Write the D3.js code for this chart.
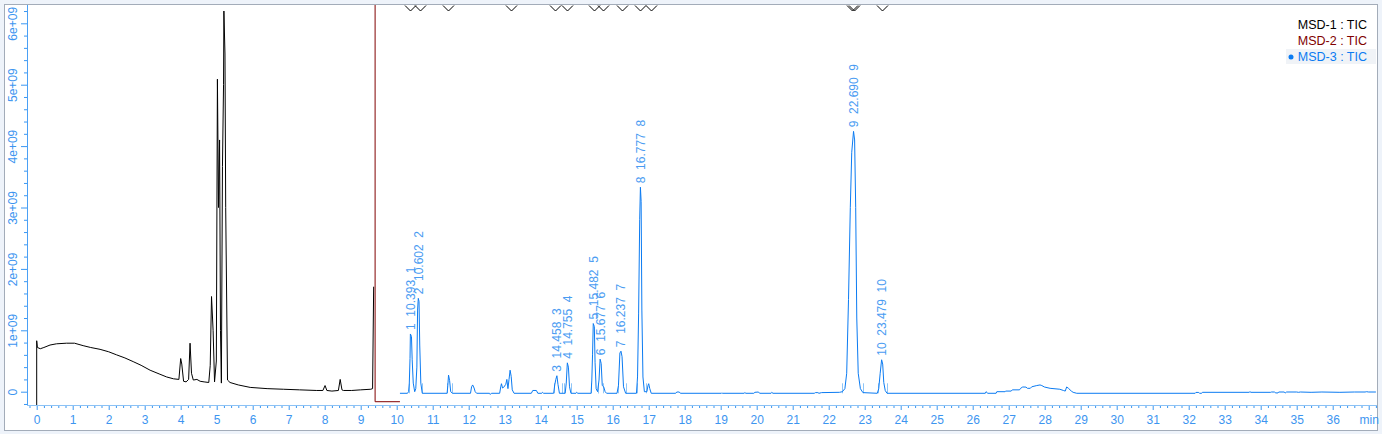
<!DOCTYPE html>
<html><head><meta charset="utf-8">
<script src="https://cdn.jsdelivr.net/npm/d3@7"></script>
<style>
html,body{margin:0;padding:0;background:#eef3fa;}
svg{display:block;font-family:"Liberation Sans",Arial,sans-serif;}
</style></head><body>
<svg id="c" width="1382" height="434"></svg>
<script>
// ---------- DATA (values in units of 1e9 counts, time in minutes) ----------
const seriesNames = ["MSD-1 : TIC", "MSD-2 : TIC", "MSD-3 : TIC"];
const seriesColors = ["#000000", "#800000", "#0b7bf2"];

const msd1 = [[0,-0.4],[0,0.83],[0.02,0.72],[0.1,0.70],[0.2,0.72],[0.37,0.76],[0.55,0.78],[0.83,0.79],[1.05,0.79],[1.29,0.75],[1.5,0.72],[1.76,0.69],[2.0,0.65],[2.22,0.60],[2.45,0.55],[2.68,0.49],[2.9,0.43],[3.15,0.35],[3.4,0.29],[3.61,0.24],[3.8,0.21],[3.95,0.2],[4.0,0.54],[4.03,0.45],[4.08,0.17],[4.15,0.16],[4.22,0.2],[4.26,0.79],[4.3,0.3],[4.35,0.19],[4.45,0.2],[4.54,0.17],[4.65,0.16],[4.78,0.15],[4.82,0.43],[4.856,1.55],[4.9,1.0],[4.94,0.16],[4.99,0.5],[5.02,5.09],[5.05,3.0],[5.08,4.1],[5.105,1.0],[5.13,0.14],[5.16,3.67],[5.19,5.0],[5.2,6.2],[5.23,5.5],[5.25,3.0],[5.3,0.19],[5.37,0.15],[5.6,0.11],[5.93,0.07],[6.4,0.05],[6.85,0.04],[7.3,0.03],[7.78,0.02],[7.95,0.02],[8.01,0.10],[8.06,0.02],[8.2,0.01],[8.38,0.02],[8.43,0.2],[8.48,0.03],[8.52,0.02],[8.75,0.02],[9.0,0.03],[9.28,0.04],[9.33,0.05],[9.36,1.71]];

const msd2 = [[9.40,7.0],[9.40,-0.163],[10.09,-0.163]];

const msd3 = [[10.09,-0.026],[10.30,-0.026],[10.33,0.0],[10.35,0.14],[10.37,0.54],[10.38,0.94],[10.41,0.9],[10.43,0.52],[10.46,0.14],[10.50,0.0],[10.53,0.05],[10.56,0.4],[10.58,1.33],[10.60,1.52],[10.62,1.47],[10.64,0.76],[10.67,0.14],[10.71,-0.026],
[11.40,-0.026],[11.42,0.1],[11.44,0.27],[11.47,0.18],[11.50,0.0],[11.55,-0.026],
[12.05,-0.026],[12.08,0.08],[12.11,0.11],[12.15,0.06],[12.18,0.0],[12.22,-0.026],
[12.58,-0.026],[12.60,-0.045],[12.63,-0.026],
[12.86,-0.026],[12.89,0.08],[12.91,0.13],[12.94,0.06],[12.97,0.07],[13.03,0.12],[13.06,0.2],[13.09,0.05],[13.12,0.2],[13.15,0.35],[13.18,0.25],[13.21,0.03],[13.26,-0.026],
[13.74,-0.026],[13.78,0.02],[13.88,0.02],[13.92,-0.026],
[14.03,-0.026],[14.05,-0.01],[14.08,-0.026],
[14.36,-0.026],[14.39,0.11],[14.42,0.2],[14.45,0.26],[14.48,0.12],[14.52,-0.026],
[14.68,-0.026],[14.71,0.14],[14.74,0.47],[14.77,0.4],[14.80,0.08],[14.84,-0.026],
[14.98,-0.026],[15.0,-0.01],[15.03,-0.026],
[15.40,-0.026],[15.42,0.19],[15.44,0.6],[15.46,1.11],[15.49,1.06],[15.51,0.48],[15.54,0.05],[15.58,0.0],[15.62,0.19],[15.65,0.53],[15.68,0.46],[15.71,0.1],[15.75,0.08],[15.79,0.0],[15.83,-0.026],
[16.12,-0.026],[16.16,0.1],[16.20,0.63],[16.23,0.66],[16.26,0.57],[16.30,0.08],[16.36,-0.026],
[16.66,-0.026],[16.69,0.24],[16.72,1.28],[16.75,2.8],[16.77,3.33],[16.79,3.1],[16.81,1.33],[16.84,0.24],[16.88,0.0],[16.95,0.0],[16.98,0.1],[17.0,0.13],[17.03,0.05],[17.07,-0.026],
[17.75,-0.026],[17.78,-0.005],[17.85,-0.005],[17.88,-0.026],
[19.02,-0.026],[19.03,-0.02],[19.05,-0.026],
[19.65,-0.026],[19.67,-0.015],[19.7,-0.026],
[19.92,-0.026],[19.95,-0.01],[20.05,-0.005],[20.08,-0.026],
[20.4,-0.026],[20.42,-0.01],[20.45,-0.026],
[21.6,-0.026],[21.63,-0.015],[21.7,-0.015],[21.73,-0.026],
[21.8,-0.015],[22.3,-0.01],
[22.38,0.0],[22.45,0.05],[22.5,0.3],[22.55,1.5],[22.6,3.0],[22.64,3.9],[22.69,4.24],[22.72,4.1],[22.75,3.0],[22.78,1.2],[22.82,0.3],[22.88,0.05],[22.95,-0.015],
[23.35,-0.026],[23.39,0.05],[23.43,0.3],[23.47,0.52],[23.5,0.45],[23.53,0.15],[23.57,0.02],[23.62,-0.026],
[26.35,-0.026],[26.37,0.0],[26.42,-0.026],[26.65,-0.026],[26.67,0.0],[26.9,0.0],[26.92,0.01],[27.07,0.01],[27.1,0.03],[27.3,0.03],[27.33,0.055],[27.39,0.077],[27.48,0.075],[27.52,0.055],[27.6,0.055],[27.64,0.08],[27.78,0.10],[27.87,0.11],[27.92,0.1],[27.99,0.077],[28.15,0.055],[28.42,0.04],[28.52,0.02],[28.57,0.01],[28.61,0.077],[28.66,0.055],[28.74,0.01],[28.79,-0.01],[28.89,-0.026],
[32.18,-0.026],[32.2,-0.012],[32.28,-0.012],[32.3,-0.026],[32.36,-0.026],[32.38,-0.01],
[33.68,-0.01],[33.7,0.0],[33.73,-0.01],[34.28,-0.01],[34.3,-0.005],[34.38,-0.005],[34.42,-0.02],[34.48,-0.02],[34.5,-0.005],[34.65,-0.005],[34.68,-0.02],[34.72,-0.005],[35.0,-0.005],[35.05,-0.01],[35.1,-0.005],[35.4,-0.01],[35.7,-0.005],[36.2,-0.01],[36.6,-0.005],[36.9,-0.005],[36.94,0.0],[37.0,-0.005],[37.2,-0.005]];

// labelled peaks
const peakNumbers = [1,2,3,4,5,6,7,8,9,10];
const peakTimes   = [10.393,10.602,14.458,14.755,15.482,15.677,16.237,16.777,22.690,23.479];
const peakApex    = [0.94,1.52,0.26,0.47,1.11,0.53,0.66,3.33,4.24,0.52];

// integration start/end markers on baseline
const integrationMarks = [10.34,10.71,11.40,11.53,14.37,14.58,14.66,14.83,15.41,15.58,15.60,15.74,16.14,16.37,16.67,16.92,22.36,22.96,23.38,23.61];
// event markers at top
const topMarks = [10.36,10.65,11.43,13.17,14.41,14.74,15.47,15.74,16.25,16.77,17.05,22.66,22.70,23.47];

// axes
const xTicks = [0,1,2,3,4,5,6,7,8,9,10,11,12,13,14,15,16,17,18,19,20,21,22,23,24,25,26,27,28,29,30,31,32,33,34,35,36,37];
const xTickLabels = ["0","1","2","3","4","5","6","7","8","9","10","11","12","13","14","15","16","17","18","19","20","21","22","23","24","25","26","27","28","29","30","31","32","33","34","35","36","min"];
const yTicks = [0,1e9,2e9,3e9,4e9,5e9,6e9];
const yTickLabels = ["0","1e+09","2e+09","3e+09","4e+09","5e+09","6e+09"];
const UNIT = 1e9;

// ---------- DRAW ----------
const svg = d3.select('#c');
const x = d3.scaleLinear().domain([0,36]).range([36.7,1332.7]);
const y = d3.scaleLinear().domain([0,6e9]).range([391.7,23.3]);
const P = {left:27, right:1377, top:5, bottom:405};
const axisColor = "#3a97f2", labelColor = "#3d95f0", peakLabelColor = "#4a9cf2";

svg.append('rect').attr('x',4.5).attr('y',4.5).attr('width',1373).attr('height',426)
  .attr('fill','#fff').attr('stroke','#a3acb9');

svg.append('clipPath').attr('id','clip').append('rect')
  .attr('x',P.left).attr('y',P.top).attr('width',P.right-P.left).attr('height',P.bottom-P.top);

// legend highlight row
svg.append('rect').attr('x',1286).attr('y',49).attr('width',90).attr('height',15).attr('fill','#f0f3f7');

// minor ticks
const xMinor = d3.range(-1, 187).map(i => i*0.2).filter(v => Math.abs(v - Math.round(v)) > 1e-6 && x(v) >= P.left && x(v) <= P.right);
const yMinor = d3.range(-1, 32).map(i => i*0.2e9).filter(v => Math.abs(v/1e9 - Math.round(v/1e9)) > 1e-6 && y(v) >= P.top && y(v) <= P.bottom);

const gx = svg.append('g').attr('transform',`translate(0,${P.bottom})`);
gx.append('g').call(d3.axisBottom(x).tickValues(xMinor).tickSize(3).tickFormat(''));
gx.append('g').call(d3.axisBottom(x).tickValues(xTicks).tickSize(5).tickSizeOuter(0).tickFormat((d,i)=>xTickLabels[i]));
gx.selectAll('.domain').remove();
gx.selectAll('line').attr('stroke',axisColor);
gx.selectAll('text').attr('fill',labelColor).attr('font-size','12px').attr('y',10).attr('dy','0.71em');

const gy = svg.append('g').attr('transform',`translate(${P.left},0)`);
gy.append('g').call(d3.axisLeft(y).tickValues(yMinor).tickSize(3).tickFormat(''));
gy.append('g').call(d3.axisLeft(y).tickValues(yTicks).tickSize(6).tickSizeOuter(0).tickFormat((d,i)=>yTickLabels[i]));
gy.selectAll('.domain').remove();
gy.selectAll('line').attr('stroke',axisColor);
gy.selectAll('text').attr('fill',labelColor).attr('font-size','12px')
  .attr('x',null)
  .attr('text-anchor','middle')
  .attr('transform','translate(-14,0) rotate(-90)')
  .attr('dy','0.35em');

// axis lines
svg.append('line').attr('x1',P.left+0.5).attr('x2',P.left+0.5).attr('y1',P.top).attr('y2',P.bottom).attr('stroke','#4aa0f5');
svg.append('line').attr('x1',P.left).attr('x2',P.right).attr('y1',P.bottom+0.5).attr('y2',P.bottom+0.5).attr('stroke','#8cc2f5');

const plot = svg.append('g').attr('clip-path','url(#clip)');
const line = d3.line().x(d=>x(d[0])).y(d=>y(d[1]*UNIT));

// integration markers
plot.selectAll('line.int').data(integrationMarks).join('line')
  .attr('x1',d=>Math.round(x(d))+0.5).attr('x2',d=>Math.round(x(d))+0.5)
  .attr('y1',y(-0.026*UNIT)).attr('y2',y(-0.026*UNIT)-10)
  .attr('stroke','#8ec5f7').attr('stroke-width',1);

[msd1, msd2, msd3].forEach((s,i)=>{
  plot.append('path').datum(s).attr('d',line).attr('fill','none')
    .attr('stroke',seriesColors[i]).attr('stroke-width',1);
});

// top event markers
plot.selectAll('path.v').data(topMarks).join('path')
  .attr('d',d=>{const cx=Math.round(x(d))+0.5; return `M${cx-5.5},${P.top+0.5}L${cx},${P.top+6}L${cx+5.5},${P.top+0.5}`;})
  .attr('fill','none').attr('stroke','#000').attr('stroke-width',1);

// peak labels
svg.append('g').selectAll('text').data(peakNumbers).join('text')
  .attr('transform',(d,i)=>`translate(${x(peakTimes[i])},${y(peakApex[i]*UNIT)-4}) rotate(-90)`)
  .attr('dy','0.35em').attr('text-anchor','start')
  .attr('fill',peakLabelColor).attr('font-size','12px')
  .attr('xml:space','preserve').style('white-space','pre')
  .text((d,i)=>`${d}  ${peakTimes[i].toFixed(3)}  ${d}`);

// legend
const lg = svg.append('g');
seriesNames.forEach((n,i)=>{
  lg.append('text').attr('x',1367).attr('y',29+i*16).attr('text-anchor','end')
    .attr('fill',seriesColors[i]).attr('font-size','12.5px').text(n);
});
lg.append('circle').attr('cx',1291).attr('cy',57).attr('r',2.5).attr('fill',seriesColors[2]);
</script></body></html>
